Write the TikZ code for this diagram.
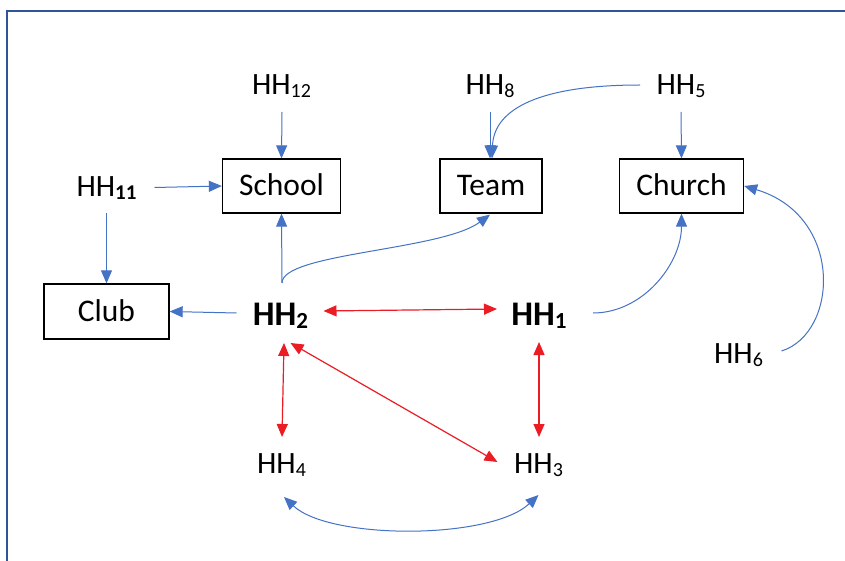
\documentclass[tikz,border=0pt]{standalone}
\usepackage{fontspec}
\setmainfont{Carlito}
\usetikzlibrary{arrows.meta,calc}

\definecolor{framebl}{RGB}{47,85,151}
\definecolor{linkbl}{RGB}{68,114,196}
\definecolor{tiered}{RGB}{236,28,36}

% lowered, smaller subscript for household labels
\newcommand\hhsub[1]{\raisebox{-3pt}{\fontsize{20}{20}\selectfont #1}}
\newcommand\hhsubb[1]{\raisebox{-3pt}{\fontsize{21}{21}\selectfont\bfseries #1}}
\newcommand\hhsubbb[1]{\raisebox{-3.5pt}{\fontsize{23}{23}\selectfont\bfseries #1}}

\tikzset{
  lbl/.style={anchor=base, inner sep=0pt, font=\fontsize{31}{37}\selectfont},
  hub/.style={anchor=base, inner sep=0pt, font=\fontsize{34.5}{41}\selectfont\bfseries},
  place/.style={draw=black, line width=1.3pt, inner sep=0pt,
    text height=20pt, text depth=0pt, minimum height=54pt,
    font=\fontsize{31.5}{37}\selectfont},
  tip/.tip={Triangle[length=13pt,width=11pt]},
  link/.style={draw=linkbl, line width=1pt, -tip},
  tie/.style={draw=tiered, line width=1.2pt, tip-tip},
  swap/.style={draw=linkbl, line width=1pt, tip-tip},
}

\begin{document}
\begin{tikzpicture}[x=1pt, y=-1pt]
\useasboundingbox (0,0) rectangle (845,561);
\fill[white] (0,0) rectangle (845,561);

% frame edges
\draw[framebl, line width=2.4pt] (7,561) -- (7,11) -- (845,11);

% places
\node[place, minimum width=118pt] (school) at (281.5,186) {School};
\node[place, minimum width=102pt] (team)   at (491,186)   {Team};
\node[place, minimum width=124pt] (church) at (681.5,186) {Church};
\node[place, minimum width=125pt, minimum height=55pt] (club) at (106.5,311.5) {Club};

% households
\node[lbl] (hh12) at (281.5,95) {HH\hhsub{12}};
\node[lbl] (hh8)  at (490,95)   {HH\hhsub{8}};
\node[lbl] (hh5)  at (681,95)   {HH\hhsub{5}};
\node[lbl] (hh11) at (106.5,196.5) {HH\hhsubb{11}};
\node[hub] (hh2)  at (280.5,325) {HH\hhsubbb{2}};
\node[hub] (hh1)  at (539,325)   {HH\hhsubbb{1}};
\node[lbl] (hh6)  at (738.5,363) {HH\hhsub{6}};
\node[lbl] (hh4)  at (281.5,473) {HH\hhsub{4}};
\node[lbl] (hh3)  at (538.5,473) {HH\hhsub{3}};

% memberships
\draw[link] ($(hh12.base)+(0.5,17)$) -- (school.north);
\draw[link] ($(hh8.base)+(0,17)$) -- ($(team.north)+(-1,0)$);
\draw[link] ($(hh5.base)+(0,17)$) -- (church.north);
\draw[link] ($(hh5.base)+(-41,-10)$)
  .. controls ($(hh5.base)+(-140,-10)$) and ($(team.north)+(3,-50)$) .. ($(team.north)+(1,0)$);
\draw[link] ($(hh11.base)+(48,-9)$) -- (school.west);
\draw[link] ($(hh11.base)+(0,17)$) -- (club.north);
\draw[link] ($(hh2.base)+(-44,-12)$) -- (club.east);
\draw[link] ($(hh2.base)+(1.5,-42)$) -- (school.south);
\draw[link] ($(hh2.base)+(1.5,-42)$)
  .. controls ($(hh2.base)+(1.5,-72)$) and ($(team.south)+(-50,37)$) .. ($(team.south)+(-1,1)$);
\draw[link] ($(hh1.base)+(54,-12)$)
  .. controls ($(hh1.base)+(104,-12)$) and ($(church.south)+(0,50)$) .. (church.south);
\draw[link] ($(hh6.base)+(43,-12)$)
  .. controls ($(hh6.base)+(100,-30)$) and ($(church.east)+(100,30)$) .. (church.east);

% ties between households
\draw[tie] ($(hh2.base)+(43,-14)$) -- ($(hh1.base)+(-42,-16)$);
\draw[tie] ($(hh2.base)+(3.5,18)$) -- ($(hh4.base)+(0.5,-36)$);
\draw[tie] ($(hh2.base)+(10,18)$) -- ($(hh3.base)+(-41,-11)$);
\draw[tie] ($(hh1.base)+(0,17)$) -- ($(hh3.base)+(0.5,-36)$);
\draw[swap] ($(hh4.base)+(2.5,24)$)
  .. controls ($(hh4.base)+(48,67)$) and ($(hh3.base)+(-48,67)$) .. ($(hh3.base)+(0,22)$);
\end{tikzpicture}
\end{document}
